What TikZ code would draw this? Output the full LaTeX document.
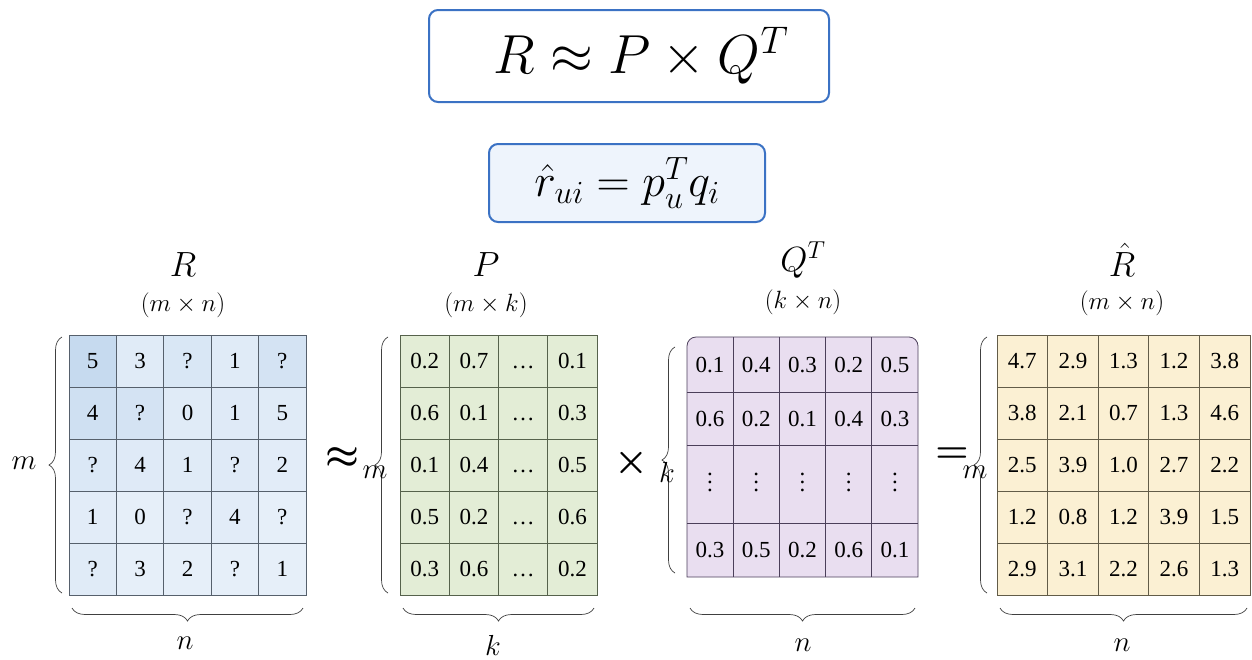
\RequirePackage{fix-cm}
\documentclass[tikz,border=0pt]{standalone}
\usepackage[no-math]{fontspec}
\setmainfont{Liberation Serif}
\usetikzlibrary{decorations.pathreplacing}

\definecolor{boxblue}{HTML}{3B72C4}
\definecolor{boxfill}{HTML}{EEF4FC}
\definecolor{rlight}{HTML}{E9F1FA}
\definecolor{rdark}{HTML}{C6DAEF}
\definecolor{rline}{HTML}{56606C}
\definecolor{pfill}{HTML}{E3EDD6}
\definecolor{pline}{HTML}{56624C}
\definecolor{qfill}{HTML}{E9DEF0}
\definecolor{qline}{HTML}{4B3F5A}
\definecolor{yfill}{HTML}{FBF0D3}
\definecolor{yline}{HTML}{625C48}

\newcommand{\vdotsq}{\vbox{\baselineskip=8pt\lineskiplimit=0pt\hbox{.}\hbox{.}\hbox{.}}}

\tikzset{
  cell/.style={draw, minimum height=52pt, inner sep=0pt, outer sep=0pt, line width=0.8pt,
    text height=15pt, text depth=0pt, font=\fontsize{23}{27}\selectfont},
  rcell/.style={cell, draw=rline, minimum width=47.4pt},
  pcell/.style={cell, draw=pline, fill=pfill, minimum width=49.25pt},
  qcell/.style={cell, draw=none, minimum width=46.2pt},
  ycell/.style={cell, draw=yline, fill=yfill, minimum width=50.6pt},
  qgrid/.style={draw=qline, line width=0.8pt},
  brc/.style={decorate, decoration={brace, amplitude=13pt}, line width=0.7pt, draw=black!75},
  title/.style={font=\fontsize{35}{40}\selectfont},
  dims/.style={font=\fontsize{25}{30}\selectfont},
  side/.style={font=\fontsize{29}{33}\selectfont},
  op/.style={font=\fontsize{38}{42}\selectfont\boldmath},
  eqbox/.style={draw=boxblue, line width=2pt, rounded corners=9pt, inner sep=0pt}
}

\begin{document}
\begin{tikzpicture}[x=1pt,y=-1pt]
  \useasboundingbox (0,0) rectangle (1252,659);

  \node[eqbox, minimum width=400pt, minimum height=92pt] (main) at (629,56) {};
  \node[font=\fontsize{55}{60}\selectfont] (mainf) at (641,56) {$R \approx P \times Q^T$};
  \node[eqbox, fill=boxfill, minimum width=276pt, minimum height=78pt, font=\fontsize{46}{50}\selectfont]
    (pred) at (627,183) {$\hat{r}_{ui} = p_u^T q_i$};

  % ratings
  \node[title] (Rt) at (183,265) {$R$};
  \node[dims] (Rd) at (183,305) {$(m \times n)$};
  \foreach \row [count=\i] in {{5/100,3/25,?/45,1/25,?/60},{4/75,?/60,0/25,1/30,5/25},
      {?/40,4/30,1/25,?/30,2/20},{1/20,0/10,?/20,4/20,?/10},{?/25,3/10,2/10,?/10,1/10}}
    \foreach \v/\s [count=\j] in \row
      \node[rcell, fill=rdark!\s!rlight] (R-\i-\j) at ({69+47.4*(\j-0.5)},{335+52*(\i-0.5)}) {\v};
  \draw[brc] ([xshift=-7pt,yshift=2pt]R-5-1.south west) -- ([xshift=-7pt,yshift=-2pt]R-1-1.north west);
  \node[side] (Rm) at (24,463) {$m$};
  \draw[brc] ([xshift=-3pt,yshift=-13pt]R-5-5.south east) -- ([xshift=3pt,yshift=-13pt]R-5-1.south west);
  \node[side] (Rn) at (185,643) {$n$};

  \node[op] (approx) at (342,458) {$\approx$};

  % users
  \node[title] (Pt) at (486,265) {$P$};
  \node[dims] (Pd) at (486,305) {$(m \times k)$};
  \foreach \row [count=\i] in {{0.2,0.7,\ldots,0.1},{0.6,0.1,\ldots,0.3},{0.1,0.4,\ldots,0.5},
      {0.5,0.2,\ldots,0.6},{0.3,0.6,\ldots,0.2}}
    \foreach \v [count=\j] in \row
      \node[pcell] (P-\i-\j) at ({400+49.25*(\j-0.5)},{335+52*(\i-0.5)}) {\v};
  \draw[brc] ([xshift=-12pt,yshift=2pt]P-5-1.south west) -- ([xshift=-12pt,yshift=-2pt]P-1-1.north west);
  \node[side] (Pm) at (375,472) {$m$};
  \draw[brc] ([xshift=-3pt,yshift=-13pt]P-5-4.south east) -- ([xshift=3pt,yshift=-13pt]P-5-1.south west);
  \node[side] (Pk) at (493,645) {$k$};

  \node[op] (times) at (631,463) {$\times$};

  % items
  \node[title] (Qt) at (803,260) {$Q^T$};
  \node[dims] (Qd) at (803,302) {$(k \times n)$};
  \draw[qline, fill=qfill, line width=0.8pt] (687,577) -- (687,346) arc[start angle=180, end angle=90, radius=9pt]
    -- (909,337) arc[start angle=90, end angle=0, radius=9pt] -- (918,577) -- cycle;
  \foreach \v [count=\j] in {0.1,0.4,0.3,0.2,0.5}
    \node[qcell, minimum height=55pt] (Q-1-\j) at ({687+46.2*(\j-0.5)},364.5) {\v};
  \foreach \v [count=\j] in {0.6,0.2,0.1,0.4,0.3}
    \node[qcell, minimum height=53pt] (Q-2-\j) at ({687+46.2*(\j-0.5)},418.5) {\v};
  \foreach \j in {1,...,5}
    \node[qcell, minimum height=78pt] (Q-3-\j) at ({687+46.2*(\j-0.5)},484) {\vdotsq};
  \foreach \v [count=\j] in {0.3,0.5,0.2,0.6,0.1}
    \node[qcell, minimum height=54pt] (Q-4-\j) at ({687+46.2*(\j-0.5)},550) {\v};
  \foreach \j in {1,...,4}
    \draw[qgrid] (Q-1-\j.north east) -- (Q-4-\j.south east);
  \foreach \i in {1,2,3}
    \draw[qgrid] (Q-\i-1.south west) -- (Q-\i-5.south east);
  \draw[brc] ([xshift=-12pt,yshift=4pt]Q-4-1.south west) -- ([xshift=-12pt,yshift=-10pt]Q-1-1.north west);
  \node[side] (Qk) at (667,472) {$k$};
  \draw[brc] ([xshift=-3pt,yshift=-31pt]Q-4-5.south east) -- ([xshift=3pt,yshift=-31pt]Q-4-1.south west);
  \node[side] (Qn) at (803,645) {$n$};

  \node[op] (equals) at (952,455) {$=$};

  % prediction
  \node[title] (Yt) at (1122,260) {$\hat{R}$};
  \node[dims] (Yd) at (1122,303) {$(m \times n)$};
  \foreach \row [count=\i] in {{4.7,2.9,1.3,1.2,3.8},{3.8,2.1,0.7,1.3,4.6},{2.5,3.9,1.0,2.7,2.2},
      {1.2,0.8,1.2,3.9,1.5},{2.9,3.1,2.2,2.6,1.3}}
    \foreach \v [count=\j] in \row
      \node[ycell] (Y-\i-\j) at ({997+50.6*(\j-0.5)},{335+52*(\i-0.5)}) {\v};
  \draw[brc] ([xshift=-10pt,yshift=2pt]Y-5-1.south west) -- ([xshift=-10pt,yshift=-2pt]Y-1-1.north west);
  \node[side] (Ym) at (975,472) {$m$};
  \draw[brc] ([xshift=-3pt,yshift=-13pt]Y-5-5.south east) -- ([xshift=3pt,yshift=-13pt]Y-5-1.south west);
  \node[side] (Yn) at (1122,645) {$n$};
\end{tikzpicture}
\end{document}
